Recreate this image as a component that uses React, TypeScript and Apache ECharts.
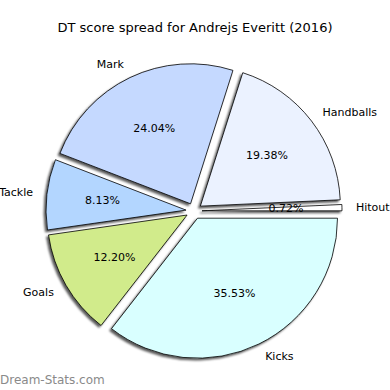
import React, { useEffect, useRef } from "react";
import * as echarts from "echarts";

const titleText = "DT score spread for Andrejs Everitt (2016)";
const watermark = "Dream-Stats.com";
const categories = ["Kicks", "Goals", "Tackle", "Mark", "Handballs", "Hitout"];
const percents = [35.53, 12.2, 8.13, 24.04, 19.38, 0.72];
const sliceColors = ["#d9ffff", "#d1eb8b", "#b3d6ff", "#c5d9ff", "#ebf2ff", "#ffffff"];

const FONT = "DejaVu Sans";

export default function App() {
  const ref = useRef<HTMLDivElement>(null);
  useEffect(() => {
    if (!ref.current) return;
    const chart = echarts.init(ref.current, undefined, { renderer: "svg" });
    const R = 140;
    const center = [194, 211];
    const offset = 8;
    const mainData = categories.map((name, i) => ({
      name,
      value: percents[i],
      selected: true,
      itemStyle: { color: sliceColors[i] },
      select: { itemStyle: { color: sliceColors[i] } },
    }));
    const labelData = categories.map((name, i) => ({
      name,
      value: percents[i],
      selected: true,
    }));
    chart.setOption({
      animation: false,
      title: {
        text: titleText,
        left: "center",
        top: 21,
        padding: 0,
        textStyle: { fontFamily: FONT, fontSize: 13, fontWeight: "normal", color: "#000" },
      },
      graphic: [
        {
          type: "text",
          left: 0,
          top: 374,
          style: { text: watermark, fontFamily: FONT, fontSize: 12, fill: "#8a8a8a" },
        },
      ],
      series: [
        {
          type: "pie",
          radius: R,
          center,
          startAngle: 0,
          clockwise: true,
          selectedMode: "multiple",
          selectedOffset: offset,
          avoidLabelOverlap: false,
          silent: true,
          emphasis: { disabled: true },
          itemStyle: {
            borderColor: "#000",
            borderWidth: 0.8,
            shadowColor: "rgba(0,0,0,0.65)",
            shadowBlur: 2,
            shadowOffsetX: -2,
            shadowOffsetY: 2,
          },
          select: {
            itemStyle: {
              borderColor: "#000",
              borderWidth: 0.8,
            },
          },
          label: {
            show: true,
            position: "outside",
            formatter: "{b}",
            fontFamily: FONT,
            fontSize: 11,
            color: "#000",
            distanceToLabelLine: 0,
            verticalAlign: "middle",
          },
          labelLine: { show: false, length: R * 0.1, length2: 0 },
          data: mainData,
        },
        {
          type: "pie",
          radius: [22, R],
          center,
          startAngle: 0,
          clockwise: true,
          selectedMode: "multiple",
          selectedOffset: offset,
          avoidLabelOverlap: false,
          silent: true,
          emphasis: { disabled: true },
          itemStyle: { color: "rgba(0,0,0,0)", borderWidth: 0 },
          select: { itemStyle: { color: "rgba(0,0,0,0)", borderWidth: 0 } },
          label: {
            show: true,
            position: "inside",
            formatter: (p: any) => p.value.toFixed(2) + "%",
            fontFamily: FONT,
            fontSize: 11,
            color: "#000",
          },
          labelLine: { show: false },
          data: labelData,
        },
      ],
    });
    return () => chart.dispose();
  }, []);
  return (
    <div
      ref={ref}
      style={{ position: "absolute", left: 0, top: 0, width: 390, height: 390, background: "#fff" }}
    />
  );
}
